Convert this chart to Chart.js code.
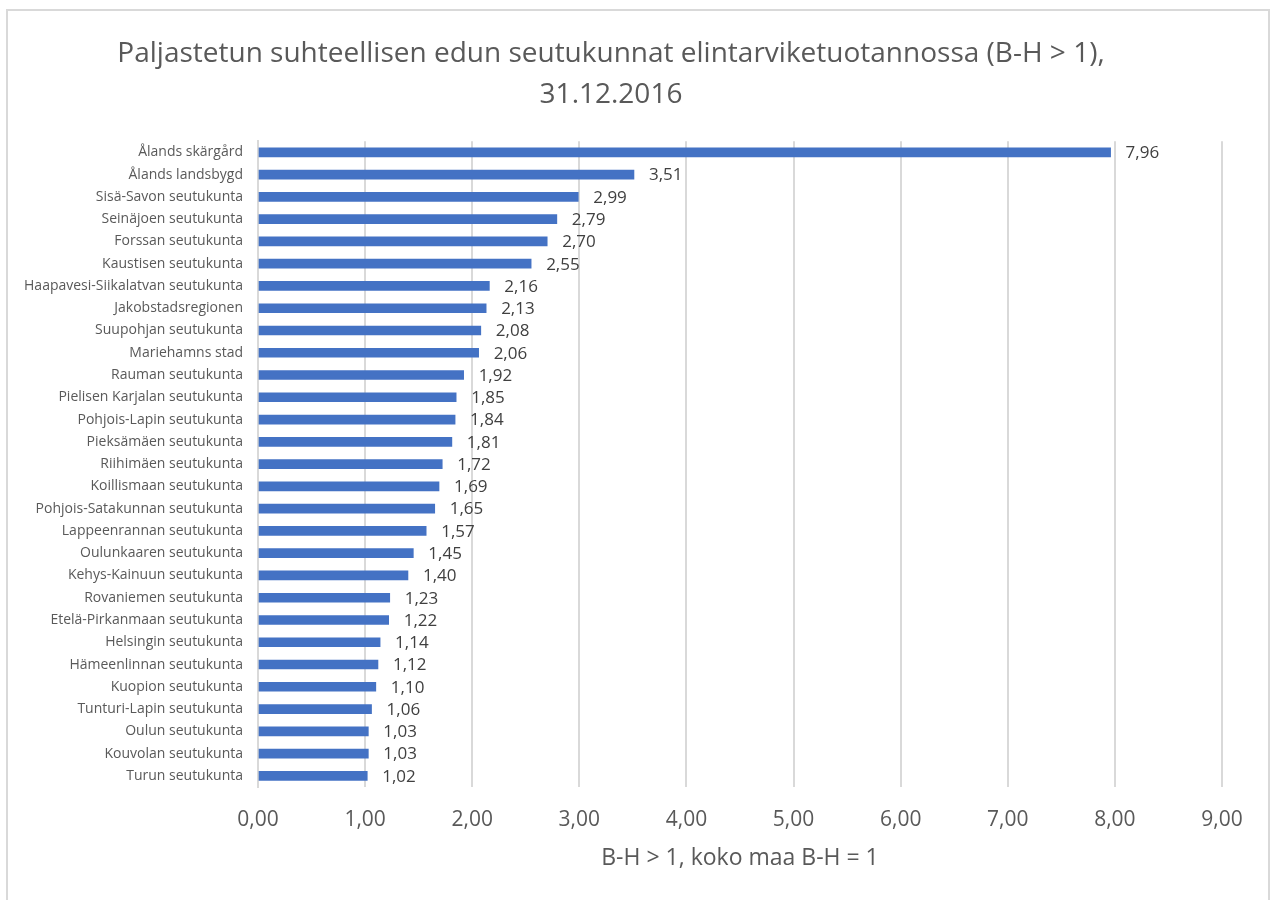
<!DOCTYPE html>
<html>
<head>
<meta charset="utf-8">
<script src="https://cdn.jsdelivr.net/npm/chart.js@4/dist/chart.umd.min.js"></script>
<style>
  body { margin: 0; background: #fff; }
  #wrap { position: relative; width: 1272px; height: 900px; }
  #frame { position: absolute; left: 6px; top: 9px; width: 1264px; height: 900px; border: 2px solid #d9d9d9; border-bottom: none; box-sizing: border-box; }
  canvas { position: absolute; left: 0; top: 0; }
</style>
</head>
<body>
<div id="wrap">
  <div id="frame"></div>
  <canvas id="myChart" width="1272" height="900"></canvas>
</div>
<script>
const regions = [
  'Ålands skärgård', 'Ålands landsbygd', 'Sisä-Savon seutukunta', 'Seinäjoen seutukunta',
  'Forssan seutukunta', 'Kaustisen seutukunta', 'Haapavesi-Siikalatvan seutukunta',
  'Jakobstadsregionen', 'Suupohjan seutukunta', 'Mariehamns stad', 'Rauman seutukunta',
  'Pielisen Karjalan seutukunta', 'Pohjois-Lapin seutukunta', 'Pieksämäen seutukunta',
  'Riihimäen seutukunta', 'Koillismaan seutukunta', 'Pohjois-Satakunnan seutukunta',
  'Lappeenrannan seutukunta', 'Oulunkaaren seutukunta', 'Kehys-Kainuun seutukunta',
  'Rovaniemen seutukunta', 'Etelä-Pirkanmaan seutukunta', 'Helsingin seutukunta',
  'Hämeenlinnan seutukunta', 'Kuopion seutukunta', 'Tunturi-Lapin seutukunta',
  'Oulun seutukunta', 'Kouvolan seutukunta', 'Turun seutukunta'
];
const bhValues = [
  7.96, 3.51, 2.99, 2.79, 2.70, 2.55, 2.16, 2.13, 2.08, 2.06, 1.92, 1.85, 1.84, 1.81,
  1.72, 1.69, 1.65, 1.57, 1.45, 1.40, 1.23, 1.22, 1.14, 1.12, 1.10, 1.06, 1.03, 1.03, 1.02
];
const xMin = 0;
const xMax = 9;
const titleLines = ['Paljastetun suhteellisen edun seutukunnat elintarviketuotannossa (B-H > 1),', '31.12.2016'];
const xTitle = 'B-H > 1, koko maa B-H = 1';

const fmt = (v) => v.toFixed(2).replace('.', ',');
const font = "'Open Sans', sans-serif";

// value labels at the end of each bar
const valueLabels = {
  id: 'valueLabels',
  afterDatasetsDraw(chart) {
    const c = chart.ctx;
    const meta = chart.getDatasetMeta(0);
    c.save();
    c.font = '17px ' + font;
    c.fillStyle = '#404040';
    c.textAlign = 'left';
    c.textBaseline = 'middle';
    meta.data.forEach((bar, i) => {
      c.fillText(fmt(bhValues[i]), bar.x + 15, bar.y + 1);
    });
    c.restore();
  },
};

const ctx = document.getElementById('myChart');
const myChart = new Chart(ctx, {
  type: 'bar',
  data: {
    labels: regions,
    datasets: [
      {
        data: bhValues,
        backgroundColor: '#4472C4',
        borderWidth: 0,
        barThickness: 9,
      },
    ],
  },
  options: {
    indexAxis: 'y',
    responsive: false,
    animation: false,
    layout: { padding: { left: 0, right: 50, top: 0, bottom: 0 } },
    plugins: {
      legend: { display: false },
      tooltip: { enabled: false },
      title: {
        display: true,
        text: titleLines,
        color: '#595959',
        font: { family: font, size: 28, weight: 'normal', lineHeight: 1.45 },
        padding: { top: 34, bottom: 26 },
      },
    },
    scales: {
      x: {
        min: xMin,
        max: xMax,
        ticks: {
          stepSize: 1,
          callback: (v) => fmt(v),
          color: '#595959',
          font: { family: font, size: 21 },
          padding: 20,
          maxRotation: 0,
        },
        grid: { color: '#d9d9d9', lineWidth: 2, drawTicks: false },
        border: { display: false },
        title: {
          display: true,
          text: xTitle,
          color: '#595959',
          font: { family: font, size: 23 },
          padding: { top: 0, bottom: 28 },
        },
        afterFit(scale) { scale.height = 113; },
      },
      y: {
        ticks: {
          color: '#595959',
          font: { family: font, size: 14 },
          padding: 15,
          autoSkip: false,
        },
        grid: { display: false, drawTicks: false },
        border: { display: true, color: '#d9d9d9', width: 2 },
        afterFit(scale) { scale.width = 258; },
      },
    },
  },
  plugins: [valueLabels],
});
</script>
</body>
</html>
